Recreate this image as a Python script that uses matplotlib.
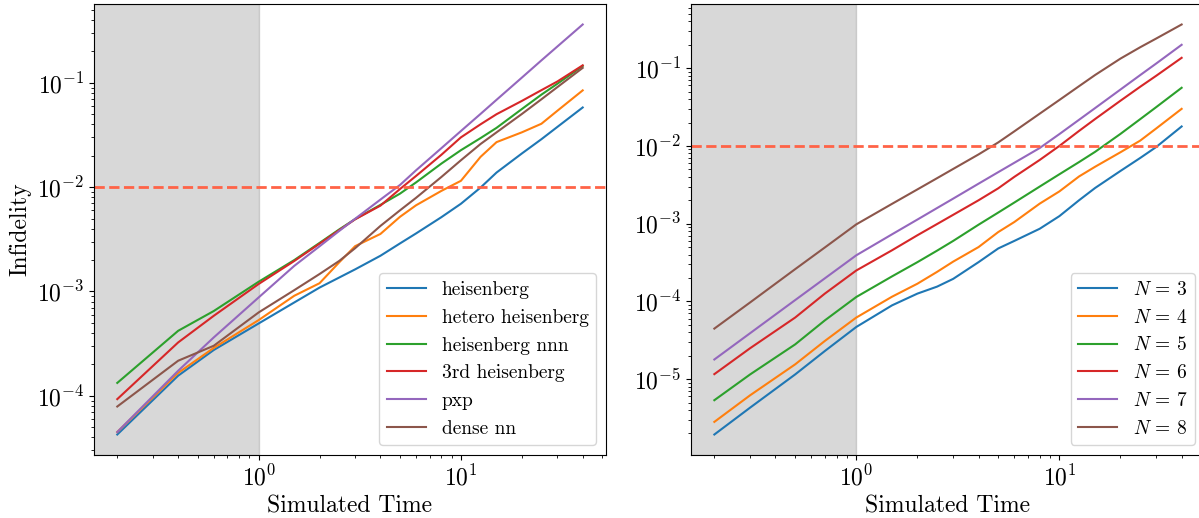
import matplotlib
matplotlib.use("Agg")
import matplotlib.pyplot as plt
import numpy as np

plt.rcParams['font.family'] = 'serif'
plt.rcParams['font.serif'] = ['cmr10']
plt.rcParams['mathtext.fontset'] = 'cm'
plt.rcParams['axes.formatter.use_mathtext'] = True

# left panel: different models
t_left = [0.2, 0.4, 0.6, 1, 1.5, 2, 2.5, 3, 4, 5, 6, 8, 10, 12.5, 15, 20, 25, 30, 40]
models = ['heisenberg', 'hetero heisenberg', 'heisenberg nnn', '3rd heisenberg', 'pxp', 'dense nn']
heis = [4.26e-5, 1.56e-4, 2.75e-4, 4.94e-4, 7.85e-4, 1.09e-3, 1.36e-3, 1.63e-3, 2.2e-3, 2.89e-3,
        3.6e-3, 5.15e-3, 6.93e-3, 9.9e-3, 1.38e-2, 2.1e-2, 2.88e-2, 3.78e-2, 5.8e-2]
hetero = [4.5e-5, 1.66e-4, 2.88e-4, 5.32e-4, 9.1e-4, 1.2e-3, 1.9e-3, 2.72e-3, 3.56e-3, 5.2e-3,
          6.7e-3, 9.2e-3, 1.15e-2, 1.95e-2, 2.7e-2, 3.35e-2, 4.05e-2, 5.4e-2, 8.46e-2]
nnn = [1.33e-4, 4.2e-4, 6.5e-4, 1.24e-3, 2.0e-3, 2.92e-3, 3.93e-3, 4.94e-3, 6.76e-3, 8.67e-3,
       1.11e-2, 1.68e-2, 2.26e-2, 2.95e-2, 3.7e-2, 5.6e-2, 7.7e-2, 9.8e-2, 1.45e-1]
third = [9.3e-5, 3.25e-4, 5.85e-4, 1.18e-3, 1.96e-3, 2.87e-3, 3.87e-3, 4.92e-3, 6.65e-3, 9.6e-3,
         1.28e-2, 2.04e-2, 3.0e-2, 4.0e-2, 5.0e-2, 6.7e-2, 8.5e-2, 1.03e-1, 1.47e-1]
pxp = [4.5e-5, 1.74e-4, 3.63e-4, 8.77e-4, 1.76e-3, 2.71e-3, 3.8e-3, 4.98e-3, 7.6e-3, 1.05e-2,
       1.45e-2, 2.36e-2, 3.45e-2, 5.03e-2, 6.87e-2, 1.12e-1, 1.64e-1, 2.23e-1, 3.62e-1]
dense = [7.9e-5, 2.17e-4, 3.02e-4, 6.3e-4, 1.03e-3, 1.47e-3, 1.96e-3, 2.6e-3, 4.25e-3, 6.0e-3,
         7.9e-3, 1.25e-2, 1.81e-2, 2.59e-2, 3.35e-2, 5.02e-2, 6.95e-2, 9.1e-2, 1.39e-1]

# right panel: system size
t_right = [0.2, 0.3, 0.5, 0.7, 1, 1.5, 2, 2.5, 3, 4, 5, 6, 8, 10, 12.5, 15, 20, 25, 30, 40]
sizes = [3, 4, 5, 6, 7, 8]
n3 = [1.94e-6, 4.3e-6, 1.15e-5, 2.3e-5, 4.69e-5, 8.9e-5, 1.26e-4, 1.55e-4, 1.95e-4, 3.2e-4,
      4.8e-4, 6.0e-4, 8.6e-4, 1.25e-3, 2.0e-3, 2.88e-3, 4.77e-3, 7.0e-3, 9.7e-3, 1.78e-2]
n4 = [2.82e-6, 6.2e-6, 1.55e-5, 3.1e-5, 6.2e-5, 1.15e-4, 1.69e-4, 2.4e-4, 3.25e-4, 5.0e-4,
      7.8e-4, 1.05e-3, 1.81e-3, 2.6e-3, 4.05e-3, 5.4e-3, 8.3e-3, 1.17e-2, 1.68e-2, 3.0e-2]
n5 = [5.36e-6, 1.15e-5, 2.8e-5, 5.7e-5, 1.14e-4, 2.1e-4, 3.2e-4, 4.5e-4, 6.0e-4, 9.7e-4,
      1.39e-3, 1.87e-3, 3.0e-3, 4.32e-3, 6.2e-3, 8.4e-3, 1.43e-2, 2.21e-2, 3.16e-2, 5.6e-2]
n6 = [1.16e-5, 2.5e-5, 6.2e-5, 1.26e-4, 2.5e-4, 4.55e-4, 7.1e-4, 9.9e-4, 1.3e-3, 2.0e-3,
      2.85e-3, 4.0e-3, 6.6e-3, 1.0e-2, 1.56e-2, 2.22e-2, 3.82e-2, 5.77e-2, 8.0e-2, 1.36e-1]
n7 = [1.79e-5, 3.9e-5, 1.04e-4, 1.98e-4, 3.92e-4, 7.3e-4, 1.13e-3, 1.59e-3, 2.1e-3, 3.27e-3,
      4.6e-3, 6.07e-3, 9.4e-3, 1.42e-2, 2.17e-2, 3.07e-2, 5.32e-2, 8.15e-2, 1.15e-1, 2.0e-1]
n8 = [4.47e-5, 9.7e-5, 2.6e-4, 4.94e-4, 9.8e-4, 1.8e-3, 2.76e-3, 3.85e-3, 5.06e-3, 7.78e-3,
      1.11e-2, 1.54e-2, 2.6e-2, 3.9e-2, 5.87e-2, 8.18e-2, 1.33e-1, 1.86e-1, 2.41e-1, 3.65e-1]

threshold = 1e-2
t_shade = 1.0

fig = plt.figure(figsize=(11.99, 5.18), dpi=100)
ax1 = fig.add_axes([0.0784, 0.1216, 0.427, 0.8707])
ax2 = fig.add_axes([0.5763, 0.1216, 0.4287, 0.8707])

for name, vals in zip(models, [heis, hetero, nnn, third, pxp, dense]):
    ax1.plot(t_left, vals, label=name)
for n, vals in zip(sizes, [n3, n4, n5, n6, n7, n8]):
    ax2.plot(t_right, vals, label=r'$N\,=\,%d$' % n)

for ax in (ax1, ax2):
    ax.set_xscale('log')
    ax.set_yscale('log')
    xl = ax.get_xlim()
    ax.axvspan(1e-3, t_shade, color='gray', alpha=0.3)
    ax.axhline(threshold, color='tomato', ls='--', lw=2)
    ax.set_xlim(xl)
    ax.set_xlabel('Simulated Time', fontsize=17)
    ax.tick_params(labelsize=17)
    ax.legend(loc='lower right', fontsize=14)

ax1.set_ylabel('Infidelity', fontsize=17)

fig.savefig('out.png', dpi=100)
